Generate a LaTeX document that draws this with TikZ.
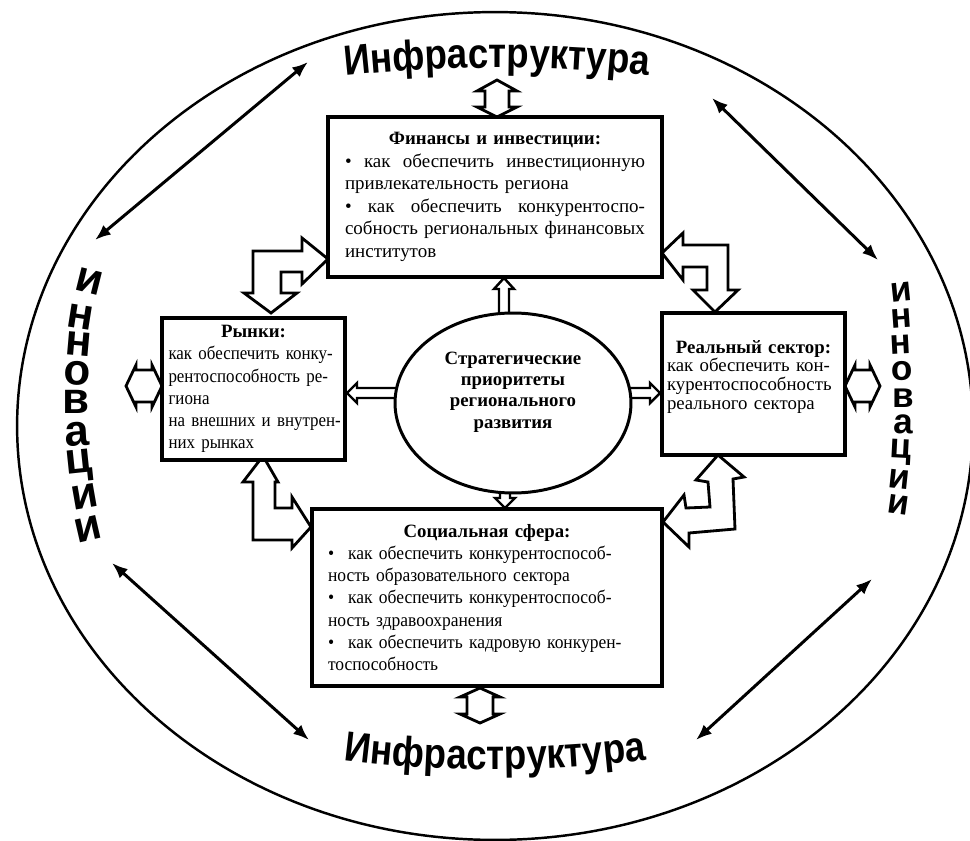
\documentclass[tikz,border=0pt]{standalone}
\usepackage{fontspec}
\setmainfont{Liberation Serif}
\newfontfamily\condserif{Liberation Serif}[FakeStretch=0.9]
\newfontfamily\socserif{Liberation Serif}[FakeStretch=0.93]
\newfontfamily\infrafont{Liberation Sans}[FakeStretch=0.87]
\newfontfamily\arialfont{Liberation Sans}
\usetikzlibrary{arrows.meta,decorations.text,shapes.geometric,calc}
\newcommand{\jline}[1]{\leavevmode\hbox to 6cm{#1}}
\newcommand{\js}{\hspace{0.22em plus 1fill}}
\begin{document}
\begin{tikzpicture}[x=0.02cm,y=-0.02cm,
  box/.style={draw, line width=2pt, rectangle, fill=white, inner sep=0pt, align=left},
  blk/.style={draw, line width=1.6pt, fill=white, line join=miter},
  diag/.style={line width=1.7pt, {Latex[length=9pt,width=7pt]}-{Latex[length=9pt,width=7pt]}},
  innL/.style={inner sep=0pt, font=\arialfont\bfseries\fontsize{25}{25}\selectfont},
  innR/.style={inner sep=0pt, font=\arialfont\bfseries\fontsize{20}{20}\selectfont}]
\useasboundingbox (0,0) rectangle (970,841);

% outer ellipse
\node[draw, ellipse, line width=1.4pt, minimum width=19.12cm, minimum height=16.56cm, inner sep=0pt] (outer) at (495,426) {};

% curved titles
\path[decorate, decoration={text along path, text align=center,
  text={|\infrafont\bfseries\fontsize{24}{24}\selectfont|Инфраструктура}}]
  (297,82) .. controls (430,63) and (564,63) .. (697,82);
\path[decorate, decoration={text along path, text align=center,
  text={|\infrafont\bfseries\fontsize{24}{24}\selectfont|Инфраструктура}}]
  (295,753) .. controls (428,775) and (562,775) .. (695,753);

% left "инновации"
\node[innL, rotate=-14] (l1) at (89,282) {и};
\node[innL, rotate=-9]  (l2) at (80,317) {н};
\node[innL, rotate=-5]  (l3) at (79,344) {н};
\node[innL, rotate=-2]  (l4) at (77,373) {о};
\node[innL]             (l5) at (76,402) {в};
\node[innL, rotate=3]   (l6) at (77,434) {а};
\node[innL, rotate=6]   (l7) at (79,466) {ц};
\node[innL, rotate=10]  (l8) at (85,497) {и};
\node[innL, rotate=13]  (l9) at (88,529) {и};
% right "инновации"
\node[innR, rotate=6]   (r1) at (901,292) {и};
\node[innR, rotate=4]   (r2) at (901,318) {н};
\node[innR, rotate=3]   (r3) at (901,345) {н};
\node[innR, rotate=1]   (r4) at (902,371) {о};
\node[innR]             (r5) at (903,398) {в};
\node[innR, rotate=-1]  (r6) at (903,424) {а};
\node[innR, rotate=-3]  (r7) at (901,452) {ц};
\node[innR, rotate=-6]  (r8) at (899,479) {и};
\node[innR, rotate=-8]  (r9) at (898,505) {и};

% diagonal arrows
\coordinate (tlA) at (95,240);  \coordinate (tlB) at (308,62);
\coordinate (trA) at (712,98);  \coordinate (trB) at (878,260);
\coordinate (blA) at (112,563); \coordinate (blB) at (309,740);
\coordinate (brA) at (696,740); \coordinate (brB) at (872,579);
\draw[diag] (tlA) -- (tlB);
\draw[diag] (trA) -- (trB);
\draw[diag] (blA) -- (blB);
\draw[diag] (brA) -- (brB);

% infrastructure double arrows
\draw[blk] (497,80) -- (517,91) -- (509,91) -- (509,107) -- (517,107) -- (497,117)
  -- (477,107) -- (485,107) -- (485,91) -- (477,91) -- cycle;
\draw[blk] (480,688) -- (500,697) -- (493,697) -- (493,714) -- (500,714) -- (480,723)
  -- (460,714) -- (467,714) -- (467,697) -- (460,697) -- cycle;
% side double arrows
\draw[blk] (126,386) -- (136,365) -- (136,370) -- (152,370) -- (152,365) -- (162,386)
  -- (152,407) -- (152,402) -- (136,402) -- (136,407) -- cycle;
\draw[blk] (845,386) -- (855,365) -- (855,370) -- (870,370) -- (870,365) -- (880,386)
  -- (870,407) -- (870,402) -- (855,402) -- (855,407) -- cycle;

% elbow block arrows
\draw[blk] (328,259) -- (302,238) -- (302,251) -- (253,251) -- (253,293) -- (244,293)
  -- (271,313) -- (297,293) -- (281,293) -- (281,272) -- (302,272) -- (302,284) -- cycle;
\draw[blk] (662,253) -- (683,233) -- (683,245) -- (728,245) -- (728,290) -- (738,290)
  -- (715,312) -- (693,290) -- (707,290) -- (707,267) -- (683,267) -- (683,280) -- cycle;
\draw[blk] (263,456) -- (278,482) -- (275,482) -- (275,508) -- (292,508) -- (292,497)
  -- (311,527) -- (292,548) -- (292,540) -- (253,540) -- (253,482) -- (243,482) -- cycle;
\draw[blk] (718,455) -- (744,477) -- (733,479) -- (735,529) -- (689,533) -- (689,547)
  -- (663,522) -- (684,495) -- (686,508) -- (710,507) -- (708,482) -- (696,480) -- cycle;

% centre small arrows
\draw[blk, line width=1.4pt] (504,278) -- (514,289) -- (509,289) -- (509,330) -- (499,330) -- (499,289) -- (494,289) -- cycle;
\draw[blk, line width=1.4pt] (347,393) -- (357,383) -- (357,388) -- (410,388) -- (410,398) -- (357,398) -- (357,403) -- cycle;
\draw[blk, line width=1.4pt] (660,393) -- (650,383) -- (650,388) -- (615,388) -- (615,398) -- (650,398) -- (650,403) -- cycle;
\draw[blk, line width=1.4pt] (505,508) -- (515,498) -- (510,498) -- (510,480) -- (500,480) -- (500,498) -- (495,498) -- cycle;

% centre ellipse
\node[draw, ellipse, fill=white, line width=1.7pt, minimum width=4.72cm, minimum height=3.6cm, inner sep=0pt] (ell) at (513,403) {};
\node[align=center, inner sep=0pt, font=\bfseries\fontsize{10.7}{12.2}\selectfont] (elltext) at (513,392)
  {Стратегические\\приоритеты\\регионального\\развития};

% boxes
\node[box, minimum width=6.68cm, minimum height=3.2cm, text width=6cm,
  font=\fontsize{10.8}{12.8}\selectfont] (fin) at (495,197) {%
\makebox[6cm]{\fontsize{10.7}{12.8}\selectfont\bfseries Финансы и инвестиции:}\\
\jline{\textbullet\js как\js обеспечить\js инвестиционную}\\
\mbox{привлекательность региона}\\
\jline{\textbullet\js как\js обеспечить\js конкурентоспо-}\\
\jline{собность\js региональных\js финансовых}\\
\mbox{институтов}};

\node[box, minimum width=3.66cm, minimum height=2.84cm, text width=3.4cm,
  font=\condserif\fontsize{10.7}{12.6}\selectfont] (mk) at (253.5,389) {%
\makebox[3.4cm]{\rmfamily\bfseries Рынки:}\\
\mbox{как обеспечить конку-}\\
\mbox{рентоспособность ре-}\\
\mbox{гиона}\\
\mbox{на внешних и внутрен-}\\
\mbox{них рынках}};

\node[box, minimum width=3.66cm, minimum height=2.84cm, text width=3.46cm,
  font=\fontsize{10.7}{10.6}\selectfont] (rs) at (753.5,384) {%
\makebox[3.46cm]{\bfseries Реальный сектор:}\\
\mbox{как обеспечить кон-}\\
\mbox{курентоспособность}\\
\mbox{реального сектора}\\
\mbox{}};

\node[box, minimum width=7cm, minimum height=3.54cm, text width=6.36cm,
  font=\socserif\fontsize{10.7}{12.6}\selectfont] (soc) at (487,597.5) {%
\makebox[6.36cm]{\rmfamily\bfseries Социальная сфера:}\\
\mbox{\textbullet\hspace{8pt}как обеспечить конкурентоспособ-}\\
\mbox{ность образовательного сектора}\\
\mbox{\textbullet\hspace{8pt}как обеспечить конкурентоспособ-}\\
\mbox{ность здравоохранения}\\
\mbox{\textbullet\hspace{8pt}как обеспечить кадровую конкурен-}\\
\mbox{тоспособность}};
\end{tikzpicture}
\end{document}
